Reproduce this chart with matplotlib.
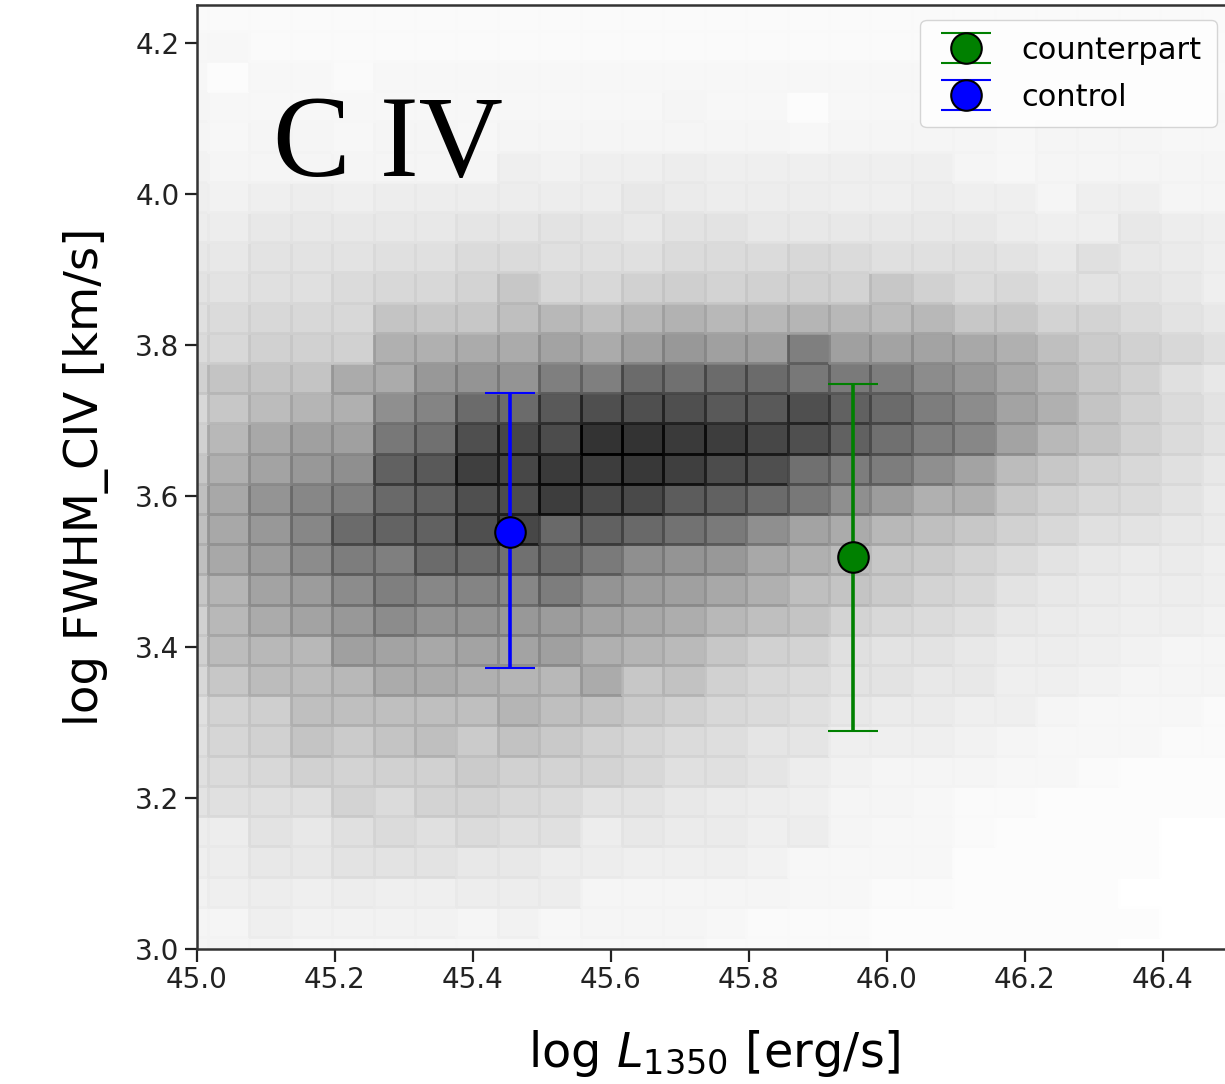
import numpy as np
import matplotlib
matplotlib.use("Agg")
import matplotlib.pyplot as plt

# 2D histogram of the parent sample (darkness 0-100, rows bottom -> top)
x_bin_start, x_bin_width, n_xbins = 44.956, 0.06, 26
y_bin_start, y_bin_width, n_ybins = 2.976, 0.04, 32

density = [
    [4,4,4,3,3,3,3,3,3,3,3,3,3,2,2,2,2,1,1,1,1,1,1,0,0,0],
    [4,4,6,5,5,5,5,4,5,3,4,4,4,3,2,2,2,1,1,1,1,1,1,1,0,0],
    [5,6,7,6,7,6,6,7,7,7,4,4,4,4,4,3,3,2,2,1,1,1,1,0,0,0],
    [6,7,9,9,11,11,11,9,9,7,7,6,6,6,5,3,3,3,3,1,1,1,1,1,0,0],
    [7,7,11,9,12,14,12,14,12,12,7,9,8,8,6,7,4,3,3,2,1,1,1,1,0,0],
    [11,12,12,12,17,14,17,17,15,14,11,11,9,8,7,6,4,4,3,2,2,1,1,1,1,1],
    [12,14,15,18,17,18,18,20,18,17,17,15,12,12,10,7,5,4,4,4,3,3,2,1,1,1],
    [12,16,18,23,20,23,25,20,24,21,18,16,14,13,10,10,6,6,6,5,4,3,3,3,2,2],
    [12,17,19,25,25,25,25,25,29,25,24,20,18,15,14,12,9,8,8,6,6,4,3,3,3,2],
    [15,22,26,26,28,33,33,31,29,28,33,22,24,18,15,14,11,11,9,9,6,6,5,4,4,4],
    [18,26,28,28,37,36,34,36,36,37,31,29,27,22,18,17,12,11,11,9,7,7,6,5,4,4],
    [18,28,33,36,40,45,42,42,40,39,36,34,32,28,25,23,17,15,14,12,9,8,7,6,6,5],
    [22,29,36,39,45,50,47,48,47,51,42,39,37,34,31,25,23,20,17,15,11,9,8,7,7,6],
    [25,34,39,45,51,50,58,58,56,58,52,44,42,40,34,31,26,22,20,17,14,11,9,8,8,6],
    [25,34,40,47,58,61,62,69,72,59,62,59,55,52,44,36,33,28,25,22,18,15,12,11,9,8],
    [25,34,42,47,50,59,62,69,70,76,71,71,64,62,58,53,44,39,31,31,22,18,15,14,11,8],
    [22,31,36,40,44,62,65,75,72,77,76,78,75,70,69,56,51,51,44,36,26,22,18,15,12,9],
    [18,28,34,37,37,53,56,69,72,70,81,81,77,76,72,69,62,56,50,47,36,28,23,18,14,11],
    [15,22,26,29,31,44,48,58,58,65,69,69,69,65,65,69,62,58,51,45,36,31,23,18,14,11],
    [18,23,23,23,33,33,40,42,42,50,50,58,56,58,58,53,52,51,45,40,34,28,22,18,12,9],
    [14,15,18,18,18,31,31,33,33,36,33,37,40,37,37,50,37,36,36,34,31,25,20,18,15,12],
    [12,14,15,15,15,23,22,22,25,28,25,28,30,28,28,29,28,26,28,22,22,17,17,14,11,9],
    [11,11,12,12,14,15,15,17,22,15,15,18,19,17,18,18,17,22,18,14,15,12,11,11,9,6],
    [9,9,11,11,11,12,12,14,14,12,12,12,14,14,14,15,14,12,12,12,11,9,12,9,8,6],
    [7,7,9,9,9,9,9,10,10,11,10,9,11,11,9,9,9,9,9,9,7,6,6,9,7,6],
    [6,5,6,7,6,7,7,7,7,7,7,9,8,7,7,7,6,6,7,6,6,4,6,6,4,4],
    [5,4,4,4,4,4,4,4,6,5,6,6,7,6,6,6,6,6,6,4,3,4,4,4,4,4],
    [4,3,4,4,3,4,4,3,4,4,4,4,4,4,4,3,4,4,4,4,3,4,4,4,3,3],
    [4,3,3,3,3,3,3,3,3,3,3,3,4,3,3,1,3,3,3,3,3,3,3,3,3,3],
    [3,1,3,3,2,3,3,3,3,3,3,3,3,3,3,3,3,3,3,3,3,3,3,2,2,2],
    [3,3,2,2,2,2,2,2,2,2,2,2,2,2,2,2,2,2,2,2,2,2,2,2,2,2],
    [2,2,2,2,2,2,2,2,2,2,2,2,2,2,2,2,2,2,2,2,2,2,2,2,2,2],
]

# sample means with errors
labels = ["counterpart", "control"]
mean_L = [45.951, 45.454]
mean_fwhm = [3.519, 3.552]
err_low = [0.230, 0.180]
err_high = [0.229, 0.184]
colors = ["green", "blue"]

x_edges = x_bin_start + x_bin_width * np.arange(n_xbins + 1)
y_edges = y_bin_start + y_bin_width * np.arange(n_ybins + 1)

fig = plt.figure(figsize=(12.25, 10.84), dpi=100)
ax = fig.add_axes([0.1608, 0.1245, 0.8449, 0.8709])

alpha = 0.8
ax.pcolormesh(x_edges, y_edges, np.array(density), cmap="gray_r",
              vmin=0, vmax=100 * alpha, alpha=alpha,
              edgecolors="face", linewidth=0.9, zorder=1)

for i in range(len(labels)):
    ax.errorbar(mean_L[i], mean_fwhm[i],
                yerr=[[err_low[i]], [err_high[i]]],
                fmt="o", color=colors[i], markerfacecolor=colors[i],
                markeredgecolor="black", markeredgewidth=1.5,
                markersize=22, elinewidth=2.6, capsize=18, capthick=2.4,
                label=labels[i], zorder=3)

ax.text(45.11, 4.023, "C IV", fontsize=84, family="Liberation Serif",
        va="baseline", ha="left", zorder=4)

ax.set_xlim(45.0, 46.5)
ax.set_ylim(3.0, 4.25)
ax.set_xticks([45.0, 45.2, 45.4, 45.6, 45.8, 46.0, 46.2, 46.4])
ax.set_yticks([3.0, 3.2, 3.4, 3.6, 3.8, 4.0, 4.2])
ax.tick_params(labelsize=20, length=9, width=1.6, colors="#222222")
for s in ax.spines.values():
    s.set_linewidth(1.8)
    s.set_color("#333333")

ax.set_xlabel(r"log $L_{1350}$ [erg/s]", fontsize=34.5, labelpad=24)
ax.set_ylabel("log FWHM_CIV [km/s]", fontsize=33.5, labelpad=19)

ax.legend(loc="upper right", fontsize=22, handlelength=2.0,
          borderpad=0.5, labelspacing=0.6, handletextpad=0.8)

fig.savefig("out.png", dpi=100)
